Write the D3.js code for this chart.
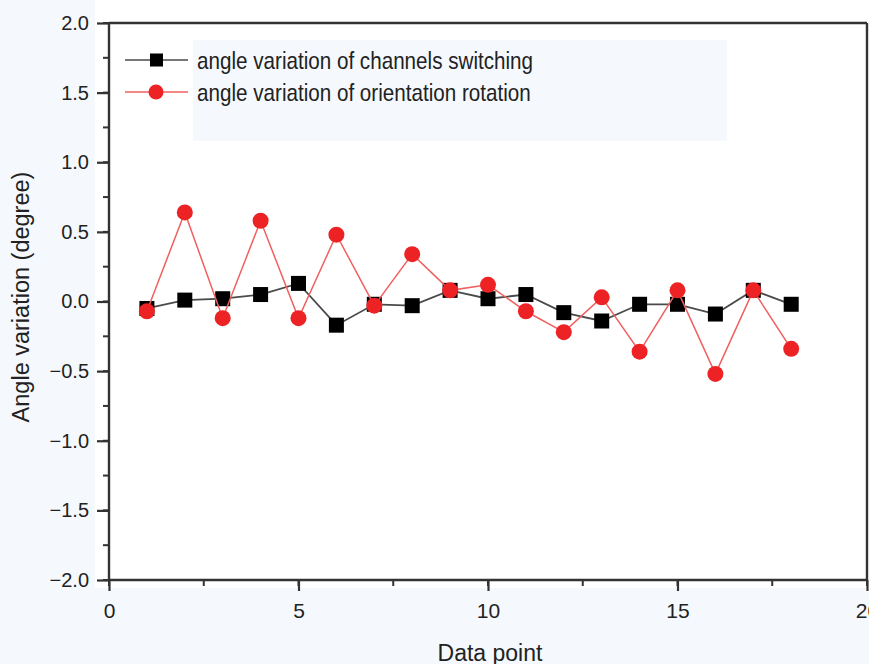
<!DOCTYPE html>
<html lang="en">
<head>
    <meta charset="UTF-8">
    <title>Angle variation</title>
    <script src="https://d3js.org/d3.v7.min.js"></script>
    <style>
        body { margin: 0; background: #f5f9fd; }
        text { font-family: "Liberation Sans", Arial, sans-serif; fill: #222; }
    </style>
</head>
<body>
    <svg id="chart" width="869" height="664"></svg>
    <script>
        // data
        var dataPoints = [1, 2, 3, 4, 5, 6, 7, 8, 9, 10, 11, 12, 13, 14, 15, 16, 17, 18];
        var channelsSwitching = [-0.05, 0.01, 0.02, 0.05, 0.13, -0.17, -0.02, -0.03, 0.08, 0.02, 0.05, -0.08, -0.14, -0.02, -0.02, -0.09, 0.08, -0.02];
        var orientationRotation = [-0.07, 0.64, -0.12, 0.58, -0.12, 0.48, -0.03, 0.34, 0.08, 0.12, -0.07, -0.22, 0.03, -0.36, 0.08, -0.52, 0.08, -0.34];
        var seriesNames = ["angle variation of channels switching", "angle variation of orientation rotation"];
        var xTicks = [0, 5, 10, 15, 20];
        var yTicks = [-2.0, -1.5, -1.0, -0.5, 0.0, 0.5, 1.0, 1.5, 2.0];

        var margin = { top: 23, right: 2, bottom: 84, left: 109 },
            width = 869 - margin.left - margin.right,
            height = 664 - margin.top - margin.bottom;

        var svg = d3.select("#chart");

        // white plot area
        svg.append("rect")
            .attr("x", 95).attr("y", 0)
            .attr("width", 869 - 95).attr("height", margin.top + height + 8)
            .attr("fill", "#ffffff");

        var g = svg.append("g")
            .attr("transform", "translate(" + margin.left + "," + margin.top + ")");

        var xScale = d3.scaleLinear().domain([0, 20]).range([0, width]);
        var yScale = d3.scaleLinear().domain([-2, 2]).range([height, 0]);

        // legend background
        g.append("rect")
            .attr("x", 193 - margin.left).attr("y", 40 - margin.top)
            .attr("width", 534).attr("height", 101)
            .attr("fill", "#f5f9fd");

        // minor ticks
        var xMinor = d3.range(0, 20.01, 2.5);
        var yMinor = d3.range(-2, 2.01, 0.25);
        g.append("g").selectAll("line")
            .data(xMinor)
            .enter().append("line")
            .attr("x1", d => xScale(d)).attr("x2", d => xScale(d))
            .attr("y1", height).attr("y2", height + 6)
            .attr("stroke", "#333").attr("stroke-width", 2);
        g.append("g").selectAll("line")
            .data(yMinor)
            .enter().append("line")
            .attr("x1", -6).attr("x2", 0)
            .attr("y1", d => yScale(d)).attr("y2", d => yScale(d))
            .attr("stroke", "#333").attr("stroke-width", 2);

        // axes
        var xAxis = d3.axisBottom(xScale).tickValues(xTicks).tickFormat(d3.format("d")).tickSize(11).tickPadding(12);
        var yAxis = d3.axisLeft(yScale).tickValues(yTicks).tickFormat(d3.format(".1f")).tickSize(12).tickPadding(8);

        var gx = g.append("g")
            .attr("transform", "translate(0," + height + ")")
            .call(xAxis);
        var gy = g.append("g").call(yAxis);

        [gx, gy].forEach(function(a) {
            a.select(".domain").attr("stroke", "#333").attr("stroke-width", 2.4);
            a.selectAll(".tick line").attr("stroke", "#333").attr("stroke-width", 2.2);
            a.selectAll(".tick text").attr("fill", "#222")
                .style("font-family", "'Liberation Sans', Arial, sans-serif");
        });
        gx.selectAll(".tick text").attr("font-size", 21);
        gy.selectAll(".tick text").attr("font-size", 20);
        gx.select(".domain").attr("d", "M0,0H" + width);
        gy.select(".domain").attr("d", "M0," + height + "V0");

        // frame top/right
        g.append("line").attr("x1", 0).attr("x2", width).attr("y1", 0).attr("y2", 0)
            .attr("stroke", "#333").attr("stroke-width", 2.4);
        g.append("line").attr("x1", width).attr("x2", width).attr("y1", 0).attr("y2", height)
            .attr("stroke", "#333").attr("stroke-width", 2.4);

        // axis labels
        svg.append("text")
            .attr("x", 490).attr("y", 661)
            .attr("text-anchor", "middle")
            .attr("font-size", 23)
            .text("Data point");
        svg.append("text")
            .attr("transform", "translate(29,297) rotate(-90)")
            .attr("text-anchor", "middle")
            .attr("font-size", 23.5)
            .text("Angle variation (degree)");

        var line = d3.line()
            .x((d, i) => xScale(dataPoints[i]))
            .y(d => yScale(d));

        // channels switching (black squares)
        g.append("path")
            .datum(channelsSwitching)
            .attr("d", line)
            .attr("fill", "none")
            .attr("stroke", "#4a4a4a")
            .attr("stroke-width", 1.8);
        g.selectAll(".sq")
            .data(channelsSwitching)
            .enter().append("rect")
            .attr("class", "sq")
            .attr("x", (d, i) => xScale(dataPoints[i]) - 7.5)
            .attr("y", d => yScale(d) - 7.5)
            .attr("width", 15).attr("height", 15)
            .attr("fill", "#000");

        // orientation rotation (red circles)
        g.append("path")
            .datum(orientationRotation)
            .attr("d", line)
            .attr("fill", "none")
            .attr("stroke", "#f0605f")
            .attr("stroke-width", 1.5);
        g.selectAll(".dot")
            .data(orientationRotation)
            .enter().append("circle")
            .attr("class", "dot")
            .attr("cx", (d, i) => xScale(dataPoints[i]))
            .attr("cy", d => yScale(d))
            .attr("r", 8)
            .attr("fill", "#ec2224");

        // legend
        var legend = svg.append("g");
        var legendStyles = [
            { stroke: "#4a4a4a", mark: "square" },
            { stroke: "#f0605f", mark: "circle" }
        ];
        seriesNames.forEach(function(name, i) {
            var yy = 60 + i * 32;
            var row = legend.append("g").attr("transform", "translate(0," + yy + ")");
            row.append("line").attr("x1", 125).attr("x2", 188).attr("y1", 0).attr("y2", 0)
                .attr("stroke", legendStyles[i].stroke).attr("stroke-width", 1.6);
            if (legendStyles[i].mark === "square") {
                row.append("rect").attr("x", 150).attr("y", -6.5).attr("width", 13).attr("height", 13).attr("fill", "#000");
            } else {
                row.append("circle").attr("cx", 156).attr("cy", 0).attr("r", 7.5).attr("fill", "#ec2224");
            }
            // narrow-looking font: squeeze horizontally
            row.append("text")
                .attr("transform", "translate(197,9) scale(0.86,1)")
                .attr("font-size", 24)
                .text(name);
        });
    </script>
</body>
</html>
